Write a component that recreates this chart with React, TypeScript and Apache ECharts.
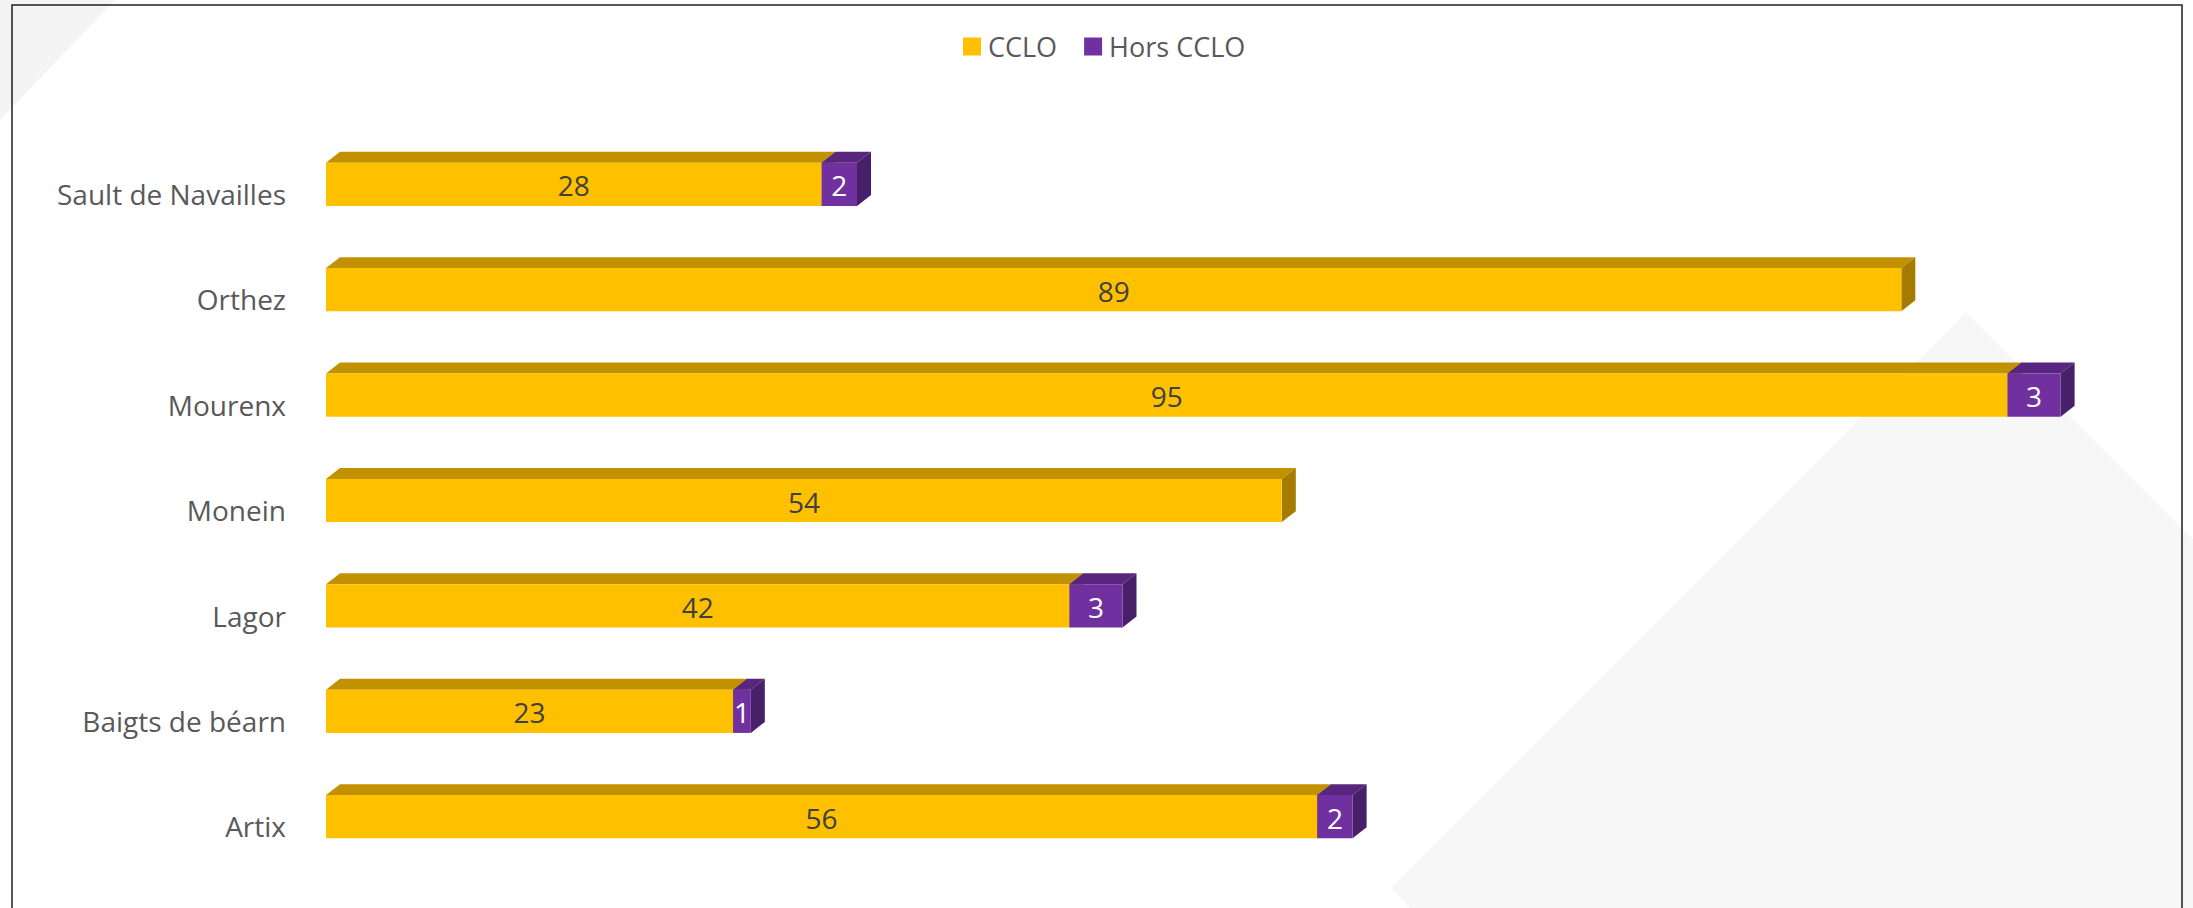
import React, { useEffect, useRef } from "react";
import * as echarts from "echarts";

const categories = ["Artix", "Baigts de béarn", "Lagor", "Monein", "Mourenx", "Orthez", "Sault de Navailles"];
const ccloValues = [56, 23, 42, 54, 95, 89, 28];
const horsValues = [2, 1, 3, 0, 3, 0, 2];
const seriesNames = ["CCLO", "Hors CCLO"];

const FONT = "'Open Sans', 'DejaVu Sans', sans-serif";

const YELLOW = { front: "#FFC000", top: "#C29100", side: "#A67C00", text: "#404040" };
const PURPLE = { front: "#7030A0", top: "#58267F", side: "#481F69", text: "#FFFFFF" };

function makeRender(colors: typeof YELLOW) {
  return (params: any, api: any) => {
    const v0 = api.value(0);
    const v1 = api.value(1);
    const label = api.value(3);
    if (!label) return { type: "group", children: [] };
    const cat = api.value(2);
    const start = api.coord([v0, cat]);
    const end = api.coord([v1, cat]);
    const band = api.size([0, 1])[1];
    const h = band * 0.41;
    const off = band * 0.092;
    const dx = band * 0.133;
    const dy = band * 0.104;
    const cy = start[1] - off;
    const yt = cy - h / 2;
    const yb = cy + h / 2;
    const x0 = start[0];
    const x1 = end[0];
    return {
      type: "group",
      children: [
        {
          type: "polygon",
          shape: { points: [[x0, yt], [x0 + dx, yt - dy], [x1 + dx, yt - dy], [x1, yt]] },
          style: { fill: colors.top },
        },
        {
          type: "polygon",
          shape: { points: [[x1, yt], [x1 + dx, yt - dy], [x1 + dx, yb - dy], [x1, yb]] },
          style: { fill: colors.side },
        },
        {
          type: "rect",
          shape: { x: x0, y: yt, width: x1 - x0, height: h },
          style: { fill: colors.front },
        },
        {
          type: "text",
          style: {
            text: String(label),
            x: (x0 + x1) / 2,
            y: cy + 1,
            align: "center",
            verticalAlign: "middle",
            fill: colors.text,
            fontSize: 28,
            fontFamily: FONT,
          },
        },
      ],
    };
  };
}

export default function App() {
  const ref = useRef<HTMLDivElement>(null);
  useEffect(() => {
    document.body.style.margin = "0";
    if (!ref.current) return;
    const chart = echarts.init(ref.current, undefined, { renderer: "svg" });
    const ccloData = categories.map((_, i) => [0, ccloValues[i], i, ccloValues[i]]);
    const horsData = categories.map((_, i) => [ccloValues[i], ccloValues[i] + horsValues[i], i, horsValues[i]]);
    chart.setOption({
      animation: false,
      backgroundColor: "#FFFFFF",
      graphic: [
        {
          type: "polygon",
          z: -10,
          silent: true,
          shape: { points: [[0, 0], [115, 0], [0, 120]] },
          style: { fill: "#F4F4F4" },
        },
        {
          type: "polygon",
          z: -10,
          silent: true,
          shape: { points: [[1966, 312], [2566, 912], [1990, 1488], [1390, 888]] },
          style: { fill: "#F7F7F7" },
        },
        {
          type: "rect",
          z: -5,
          silent: true,
          shape: { x: 12, y: 5, width: 2170, height: 960 },
          style: { fill: "none", stroke: "#1F1F1F", lineWidth: 1.5 },
        },
      ],
      legend: {
        data: seriesNames,
        top: 28,
        left: 958,
        itemWidth: 18,
        itemHeight: 18,
        itemGap: 27,
        icon: "rect",
        textStyle: { color: "#595959", fontSize: 27, fontFamily: FONT, padding: [0, 0, 0, 2] },
      },
      grid: { left: 326, width: 1770, top: 141.3, height: 737.8, containLabel: false },
      xAxis: {
        type: "value",
        min: 0,
        max: 100,
        show: false,
      },
      yAxis: {
        type: "category",
        data: categories,
        axisLine: { show: false },
        axisTick: { show: false },
        splitLine: { show: false },
        axisLabel: { color: "#595959", fontSize: 28, fontFamily: FONT, margin: 40 },
      },
      series: [
        {
          name: seriesNames[0],
          type: "custom",
          itemStyle: { color: YELLOW.front },
          encode: { x: [0, 1], y: 2 },
          renderItem: makeRender(YELLOW),
          data: ccloData,
          z: 2,
        },
        {
          name: seriesNames[1],
          type: "custom",
          itemStyle: { color: PURPLE.front },
          encode: { x: [0, 1], y: 2 },
          renderItem: makeRender(PURPLE),
          data: horsData,
          z: 3,
        },
      ],
    });
    return () => chart.dispose();
  }, []);
  return <div ref={ref} style={{ width: 2193, height: 908, background: "#fff" }} />;
}
